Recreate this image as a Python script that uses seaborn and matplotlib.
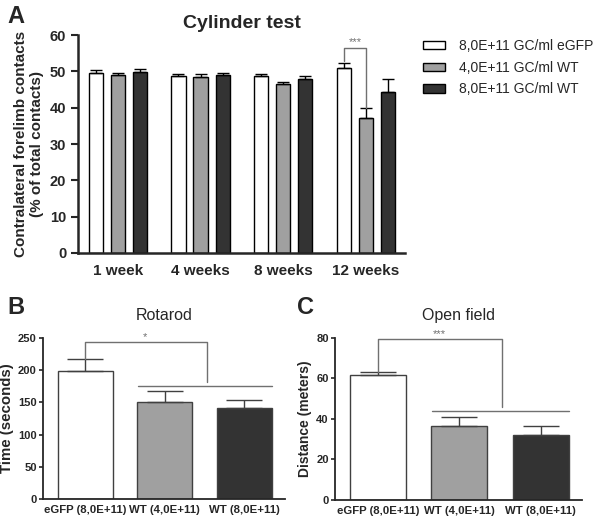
import numpy as np
import pandas as pd
import matplotlib
matplotlib.use('Agg')
import matplotlib.pyplot as plt
import seaborn as sns

sns.set_style('ticks')
plt.rcParams['font.family'] = ['Liberation Sans', 'DejaVu Sans']

# --- data ---
weeks = ['1 week', '4 weeks', '8 weeks', '12 weeks']
groups = ['8,0E+11 GC/ml eGFP', '4,0E+11 GC/ml WT', '8,0E+11 GC/ml WT']
cyl_egfp = [49.5, 48.6, 48.6, 51.0]
cyl_wt4 = [48.9, 48.5, 46.5, 37.2]
cyl_wt8 = [49.8, 48.9, 48.0, 44.4]
cyl_egfp_err = [0.8, 0.6, 0.6, 1.4]
cyl_wt4_err = [0.6, 0.7, 0.6, 2.6]
cyl_wt8_err = [0.9, 0.7, 0.8, 3.6]

treat = ['eGFP (8,0E+11)', 'WT (4,0E+11)', 'WT (8,0E+11)']
rota = [198, 151, 142]
rota_err = [20, 17, 11]
open_field = [61.5, 36.3, 32.2]
open_err = [1.5, 4.7, 4.4]

colors = ['#ffffff', '#a0a0a0', '#333333']
sig_col = '#707070'

fig = plt.figure(figsize=(6, 5.2), dpi=100)

# --- A: cylinder test ---
axA = fig.add_axes([0.13, 0.5135, 0.545, 0.419])
dfA = pd.DataFrame({
    'week': weeks * 3,
    'group': [groups[0]] * 4 + [groups[1]] * 4 + [groups[2]] * 4,
    'val': cyl_egfp + cyl_wt4 + cyl_wt8,
    'err': cyl_egfp_err + cyl_wt4_err + cyl_wt8_err,
})
sns.barplot(data=dfA, x='week', y='val', hue='group', palette=colors,
            edgecolor='black', linewidth=1.0, errorbar=None, width=0.8,
            gap=0.36, ax=axA, legend=True)
for cont, g in zip(axA.containers, groups):
    sub = dfA[dfA['group'] == g]
    xs = [p.get_x() + p.get_width() / 2 for p in cont.patches]
    axA.errorbar(xs, sub['val'].values, yerr=[np.zeros(4), sub['err'].values],
                 fmt='none', ecolor='black', elinewidth=1.0, capsize=4, capthick=1.0)
axA.set_ylim(0, 60)
axA.set_xlim(-0.48, 3.47)
axA.set_yticks(range(0, 61, 10))
axA.set_xlabel('')
axA.set_ylabel('Contralateral forelimb contacts\n(% of total contacts)',
               fontsize=11, fontweight='bold')
axA.set_title('Cylinder test', fontsize=14, fontweight='bold', pad=5)
axA.tick_params(axis='y', labelsize=10.5, width=1.5, length=5)
axA.tick_params(axis='x', labelsize=11, length=0, pad=8)
for lab in axA.get_xticklabels() + axA.get_yticklabels():
    lab.set_fontweight('bold')
for s in ['left', 'bottom']:
    axA.spines[s].set_linewidth(1.8)
sns.despine(ax=axA)
# significance at 12 weeks
p_w = axA.containers[0].patches[3]
p_g = axA.containers[1].patches[3]
x1 = p_w.get_x() + p_w.get_width() / 2
x2 = p_g.get_x() + p_g.get_width() / 2
axA.plot([x1, x1, x2, x2], [52.8, 56.5, 56.5, 40.0], color=sig_col, lw=1.0)
axA.text((x1 + x2) / 2, 56.6, '***', ha='center', va='bottom', fontsize=8, color=sig_col)
handles, labels = axA.get_legend_handles_labels()
axA.get_legend().remove()
fig.legend(handles, labels, loc='upper left', bbox_to_anchor=(0.705, 0.925),
           frameon=False, fontsize=10, handlelength=1.6, handleheight=0.55,
           labelspacing=0.55, handletextpad=1.0, borderpad=0, borderaxespad=0)
fig.text(0.012, 0.99, 'A', fontsize=17, fontweight='bold', va='top')


def small_panel(rect, vals, errs, ylim, yticks, ylabel, ylabel_size, title,
                bracket, line, star):
    ax = fig.add_axes(rect)
    df = pd.DataFrame({'treat': treat, 'val': vals})
    sns.barplot(data=df, x='treat', y='val', hue='treat', palette=colors,
                edgecolor='#404040', linewidth=1.0, errorbar=None, width=0.69,
                ax=ax, legend=False)
    xs = [p.get_x() + p.get_width() / 2 for p in ax.patches]
    ax.errorbar(xs, vals, yerr=[np.zeros(3), errs], fmt='none', ecolor='#404040',
                elinewidth=1.0, capsize=13, capthick=1.0)
    ax.set_ylim(*ylim)
    ax.set_yticks(yticks)
    ax.set_xlim(-0.53, 2.51)
    ax.set_xlabel('')
    ax.set_ylabel(ylabel, fontsize=ylabel_size, fontweight='bold', labelpad=3)
    ax.set_title(title, fontsize=11.5, pad=13)
    ax.tick_params(axis='y', labelsize=8, width=1.2, length=3, pad=1.5)
    ax.tick_params(axis='x', labelsize=8.2, length=0, pad=4)
    for lab in ax.get_xticklabels() + ax.get_yticklabels():
        lab.set_fontweight('bold')
    for s in ['left', 'bottom']:
        ax.spines[s].set_linewidth(1.3)
    sns.despine(ax=ax)
    y0, ytop, y1 = bracket
    ax.plot([0, 0, 1.53, 1.53], [y0, ytop, ytop, y1], color=sig_col, lw=1.0)
    ax.plot([0.67, 2.35], [line, line], color=sig_col, lw=1.0)
    ax.text(0.75, ytop, star, ha='center', va='bottom', fontsize=8, color=sig_col)
    return ax


small_panel([0.0717, 0.0404, 0.403, 0.3096], rota, rota_err, (0, 250),
            range(0, 251, 50), 'Time (seconds)', 10.8, 'Rotarod',
            (218, 244, 181), 176, '*')
small_panel([0.5583, 0.0385, 0.4117, 0.3115], open_field, open_err, (0, 80),
            range(0, 81, 20), 'Distance (meters)', 10, 'Open field',
            (63, 79.5, 46), 44, '***')
fig.text(0.012, 0.43, 'B', fontsize=17, fontweight='bold', va='top')
fig.text(0.495, 0.43, 'C', fontsize=17, fontweight='bold', va='top')

fig.savefig('out.png', dpi=100)
